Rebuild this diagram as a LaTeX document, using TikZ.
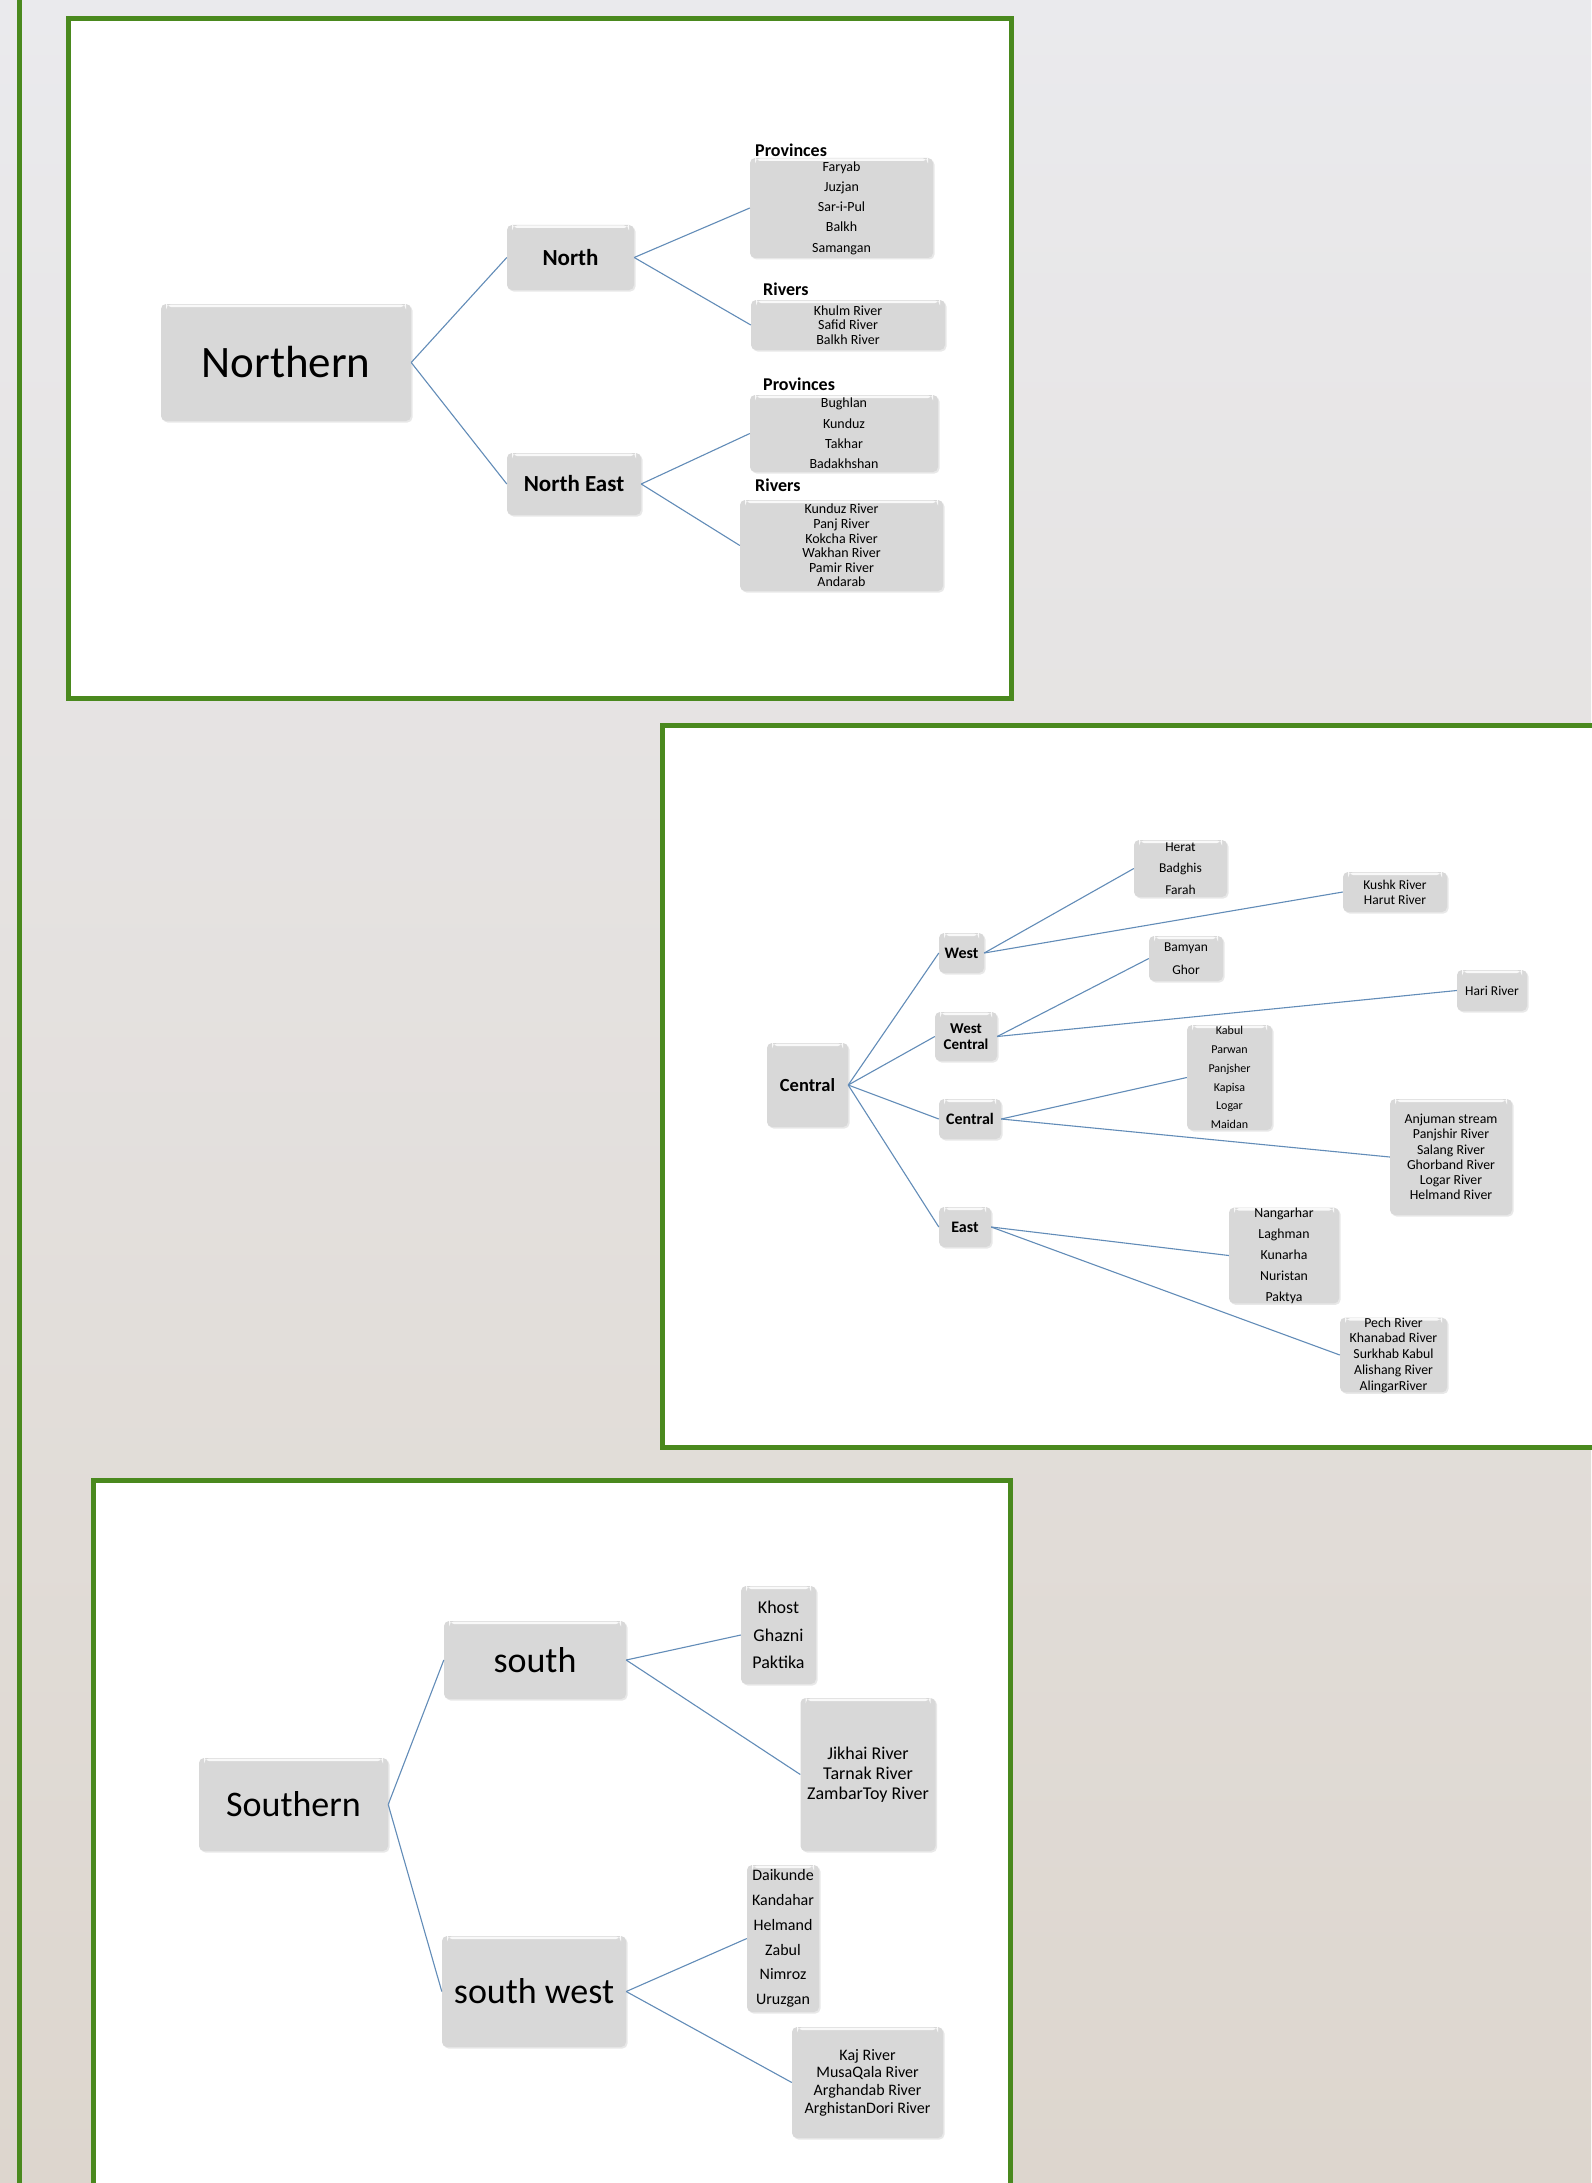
\documentclass[tikz,border=0pt]{standalone}
\usepackage{fontspec}
\setmainfont{Carlito}
\usepackage{xcolor}
\usepackage{tikz}
\usetikzlibrary{shadows}
\definecolor{framegreen}{RGB}{74,137,30}
\definecolor{boxgray}{RGB}{216,216,216}
\definecolor{linkblue}{RGB}{98,140,184}
\definecolor{bgtop}{RGB}{234,234,237}
\definecolor{bgmid}{RGB}{214,212,209}
\definecolor{bgbot}{RGB}{221,214,206}

\begin{document}
\begin{tikzpicture}[x=1pt,y=-1pt,
  panel/.style={fill=white,draw=framegreen,line width=5pt},
  box/.style={fill=boxgray,rounded corners=5pt,align=center,inner sep=0pt,
    drop shadow={shadow xshift=1.5pt,shadow yshift=-1.5pt,opacity=0.18},
    path picture={\fill[white,opacity=0.85]
      ([xshift=5pt,yshift=-0.5pt]path picture bounding box.north west) rectangle
      ([xshift=-5pt,yshift=-3pt]path picture bounding box.north east);}},
  sz/.style 2 args={minimum width=#1pt,minimum height=#2pt},
  fs/.style 2 args={font=\fontsize{#1}{#2}\selectfont},
  fb/.style 2 args={font=\fontsize{#1}{#2}\selectfont\bfseries},
  head/.style={font=\fontsize{18}{20}\selectfont\bfseries,inner sep=0pt,anchor=west},
  link/.style={draw=linkblue,line width=1.1pt}]
\useasboundingbox (0,0) rectangle (1591,2183);
% background
\shade[top color=bgtop,middle color=bgmid,bottom color=bgbot] (0,0) rectangle (1591,2183);
\draw[framegreen,line width=5pt] (19,-5)--(19,2190);
\draw[panel] (68.5,18.5) rectangle (1011.5,698.5);
\draw[panel] (662,725.5) rectangle (1600,1447.5);
\draw[panel] (93,1480) rectangle (1010,2200);

% Northern
\node[box,sz={250}{117},fs={45}{54}] (nroot) at (286,362.5) {Northern};
\node[box,sz={127}{65},fb={23}{28}] (north) at (570.5,257.5) {North};
\node[box,sz={134}{62},fb={23}{28}] (neast) at (574,484) {North East};
\node[head] (nprovlbl) at (755,150) {Provinces};
\node[box,sz={183}{100},fs={14}{20.3}] (nprov) at (841.5,208)
  {Faryab\\Juzjan\\Sar-i-Pul\\Balkh\\Samangan};
\node[head] (nrivlbl) at (763,289) {Rivers};
\node[box,sz={194}{50},fs={14}{14.3}] (nriv) at (848,325)
  {Khulm River\\Safid River\\Balkh River};
\node[head] (neprovlbl) at (763,384) {Provinces};
\node[box,sz={188}{77},fs={14}{20.3}] (neprov) at (844,433.5)
  {Bughlan\\Kunduz\\Takhar\\Badakhshan};
\node[head] (nerivlbl) at (755,485) {Rivers};
\node[box,sz={203}{91},fs={14}{14.6}] (neriv) at (841.5,545.5)
  {Kunduz River\\Panj River\\Kokcha River\\Wakhan River\\Pamir River\\Andarab};

% Central
\node[box,sz={81}{84},fb={18.5}{22}] (croot) at (807.5,1085) {Central};
\node[box,sz={45}{40},fb={16}{19}] (west) at (961.5,953) {West};
\node[box,sz={62}{49},fb={15}{16}] (wcent) at (966,1036.5) {West\\Central};
\node[box,sz={62}{40},fb={16}{19}] (cent) at (970,1119) {Central};
\node[box,sz={52}{40},fb={16}{19}] (east) at (965,1227) {East};
\node[box,sz={93}{57},fs={13.5}{21.7}] (herat) at (1180.5,868.5) {Herat\\Badghis\\Farah};
\node[box,sz={104}{40},fs={13.5}{15}] (kushk) at (1395,892) {Kushk River\\Harut River};
\node[box,sz={74}{45},fs={13.5}{23}] (bamyan) at (1186,958.5) {Bamyan\\Ghor};
\node[box,sz={70}{41},fs={13.5}{16}] (hari) at (1492,990.5) {Hari River};
\node[box,sz={85}{105},fs={12}{18.8}] (kabul) at (1229.5,1077.5)
  {Kabul\\Parwan\\Panjsher\\Kapisa\\Logar\\Maidan};
\node[box,sz={122}{116},fs={13.8}{15.3}] (anjuman) at (1451,1157)
  {Anjuman stream\\Panjshir River\\Salang River\\Ghorband River\\Logar River\\Helmand River};
\node[box,sz={110}{95},fs={13.8}{21}] (nangarhar) at (1284,1255.5)
  {Nangarhar\\Laghman\\Kunarha\\Nuristan\\Paktya};
\node[box,sz={107}{74},fs={13.8}{15.7}] (pech) at (1393.5,1355)
  {Pech River\\Khanabad River\\Surkhab Kabul\\Alishang River\\AlingarRiver};

% Southern
\node[box,sz={189}{93},fs={36}{43}] (sroot) at (293.5,1804.5) {Southern};
\node[box,sz={182}{78},fs={36}{43}] (south) at (535,1660) {south};
\node[box,sz={184}{111},fs={36}{43}] (swest) at (534,1991.5) {south west};
\node[box,sz={75}{98},fs={18}{27.5}] (khost) at (778.5,1635) {Khost\\Ghazni\\Paktika};
\node[box,sz={135}{153},fs={18}{20}] (jikhai) at (868,1774.5)
  {Jikhai River\\Tarnak River\\ZambarToy River};
\node[box,sz={72}{147},fs={16}{24.8}] (daikunde) at (783,1938.5)
  {Daikunde\\Kandahar\\Helmand\\Zabul\\Nimroz\\Uruzgan};
\node[box,sz={151}{111},fs={16}{17.6}] (kaj) at (867.5,2082.5)
  {Kaj River\\MusaQala River\\Arghandab River\\ArghistanDori River};

% links
\foreach \a/\b in {nroot/north,nroot/neast,north/nprov,north/nriv,neast/neprov,neast/neriv,
  croot/west,croot/wcent,croot/cent,croot/east,west/herat,west/kushk,wcent/bamyan,wcent/hari,
  cent/kabul,cent/anjuman,east/nangarhar,east/pech,
  sroot/south,sroot/swest,south/khost,south/jikhai,swest/daikunde,swest/kaj}
  \draw[link] (\a.east) -- (\b.west);
\end{tikzpicture}
\end{document}
